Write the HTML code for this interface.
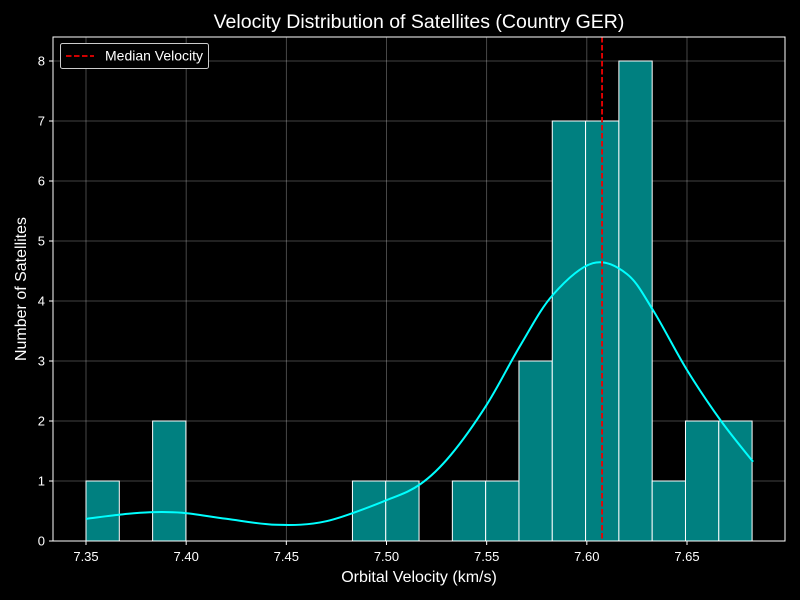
<!DOCTYPE html>
<html><head><meta charset="utf-8">
<style>
html,body{margin:0;padding:0;background:#000;}
svg{display:block;font-family:"Liberation Sans",sans-serif;}
</style></head>
<body>
<svg id="chart" width="800" height="600" xmlns="http://www.w3.org/2000/svg">
<rect width="800" height="600" fill="#000"/>
<text x="419" y="28" fill="#fff" font-size="19.5" text-anchor="middle">Velocity Distribution of Satellites (Country GER)</text>
<text x="419" y="582" fill="#fff" font-size="16" text-anchor="middle">Orbital Velocity (km/s)</text>
<text x="26" y="289" fill="#fff" font-size="16" text-anchor="middle" transform="rotate(-90 26 289)">Number of Satellites</text>
<g id="grid"></g>
<g id="bars"></g>
<g id="kde"></g>
<g id="ticks"></g>
<g id="median"></g>
<rect x="53" y="37" width="732" height="504" fill="none" stroke="#fff" stroke-width="1"/>
<g>
<rect x="60.5" y="43.5" width="148" height="25" rx="2" fill="#000" stroke="#ccc" stroke-width="1"/>
<line x1="66" y1="56" x2="94" y2="56" stroke="#e00" stroke-width="1.8" stroke-dasharray="5.5,2.5"/>
<text x="105" y="60.5" fill="#fff" font-size="14">Median Velocity</text>
</g>
</svg>
<script>
const binStart = 7.35;
const binWidth = 0.016625;
const counts = [1,0,2,0,0,0,0,0,1,1,0,1,1,3,7,7,8,1,2,2];
const kdeX = [7.35,7.367,7.382,7.398,7.42,7.445,7.47,7.5,7.517,7.532,7.55,7.567,7.583,7.603,7.62,7.633,7.65,7.667,7.683];
const kdeY = [0.37,0.44,0.48,0.47,0.37,0.27,0.33,0.68,0.95,1.43,2.27,3.27,4.1,4.63,4.45,3.85,2.85,2.0,1.32];
const medianVal = 7.6076;
const xTicks = [7.35,7.40,7.45,7.50,7.55,7.60,7.65];
const yTicks = [0,1,2,3,4,5,6,7,8];

const NS="http://www.w3.org/2000/svg";
const X = v => 86 + (v - 7.35) * 2003.3;
const Y = v => 541 - v * 60;
function mk(tag, attrs, parent){const e=document.createElementNS(NS,tag);for(const k in attrs)e.setAttribute(k,attrs[k]);document.getElementById(parent).appendChild(e);return e;}

xTicks.forEach(t=>{
  const g=mk('line',{x1:X(t),x2:X(t),y1:37,y2:541,stroke:'#fff','stroke-opacity':0.35,'stroke-width':0.8},'grid');
  
  
  const tk=mk('line',{x1:X(t),x2:X(t),y1:541,y2:545,stroke:'#fff'},'ticks');
  
  
  const tl=mk('text',{x:X(t),y:561,fill:'#fff','font-size':13,'text-anchor':'middle'},'ticks');
  tl.textContent=t.toFixed(2);
  
  
});
yTicks.forEach(t=>{
  const g=mk('line',{x1:53,x2:785,y1:Y(t),y2:Y(t),stroke:'#fff','stroke-opacity':0.35,'stroke-width':0.8},'grid');
  
  
  const tk=mk('line',{x1:49,x2:53,y1:Y(t),y2:Y(t),stroke:'#fff'},'ticks');
  
  
  const tl=mk('text',{x:45,y:Y(t)+4.5,fill:'#fff','font-size':13,'text-anchor':'end'},'ticks');
  tl.textContent=t;
  
  
});
counts.forEach((c,i)=>{
  if(c<=0) return;
  const x0=X(binStart+i*binWidth), x1=X(binStart+(i+1)*binWidth);
  const r=mk('rect',{x:x0,y:Y(c),width:x1-x0,height:Y(0)-Y(c),fill:'#008080',stroke:'#fff','stroke-width':1},'bars');
  
  
});
const pts=kdeX.map((v,i)=>[X(v),Y(kdeY[i])]);
let d='M'+pts[0][0]+','+pts[0][1];
for(let i=0;i<pts.length-1;i++){
  const p0=pts[Math.max(0,i-1)],p1=pts[i],p2=pts[i+1],p3=pts[Math.min(pts.length-1,i+2)];
  const c1x=p1[0]+(p2[0]-p0[0])/6,c1y=p1[1]+(p2[1]-p0[1])/6;
  const c2x=p2[0]-(p3[0]-p1[0])/6,c2y=p2[1]-(p3[1]-p1[1])/6;
  d+=` C${c1x},${c1y} ${c2x},${c2y} ${p2[0]},${p2[1]}`;
}
const kp=mk('path',{d:d,fill:'none',stroke:'#00ffff','stroke-width':2},'kde');


const ml=mk('line',{x1:X(medianVal),x2:X(medianVal),y1:37,y2:541,stroke:'#e00','stroke-width':1.8,'stroke-dasharray':'5.5,2.5'},'median');


</script>
</body></html>
